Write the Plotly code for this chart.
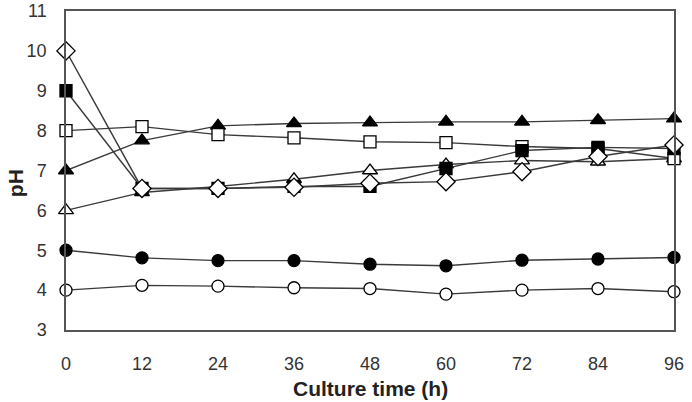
import plotly.graph_objects as go

time_h = [0, 12, 24, 36, 48, 60, 72, 84, 96]
x_ticks = [0, 12, 24, 36, 48, 60, 72, 84, 96]
y_ticks = [3, 4, 5, 6, 7, 8, 9, 10, 11]

ph_open_circle = [4.0, 4.12, 4.1, 4.06, 4.04, 3.9, 4.0, 4.04, 3.96]
ph_filled_circle = [5.0, 4.81, 4.74, 4.74, 4.65, 4.61, 4.75, 4.78, 4.82]
ph_filled_triangle = [7.0, 7.75, 8.12, 8.18, 8.2, 8.22, 8.22, 8.26, 8.3]
ph_open_square = [8.0, 8.1, 7.9, 7.82, 7.72, 7.7, 7.6, 7.55, 7.3]
ph_filled_square = [9.0, 6.55, 6.55, 6.6, 6.6, 7.05, 7.5, 7.58, 7.55]
ph_open_triangle = [6.0, 6.45, 6.6, 6.78, 7.0, 7.15, 7.25, 7.22, 7.3]
ph_open_diamond = [10.0, 6.55, 6.55, 6.58, 6.68, 6.72, 6.97, 7.35, 7.64]

series = [
    (ph_open_circle, "circle", "white", 12),
    (ph_filled_circle, "circle", "black", 12),
    (ph_open_triangle, "triangle-up", "white", 13),
    (ph_filled_triangle, "triangle-up", "black", 13),
    (ph_open_square, "square", "white", 12),
    (ph_filled_square, "square", "black", 12),
    (ph_open_diamond, "diamond", "white", 14),
]

fig = go.Figure()
for vals, sym, fill, sz in series:
    fig.add_trace(go.Scatter(
        x=time_h, y=vals, mode="lines+markers",
        line=dict(color="#3a3a3a", width=1.4),
        marker=dict(symbol=sym, size=sz, color=fill,
                    line=dict(color="black", width=1.3)),
        showlegend=False, cliponaxis=False,
    ))

font_family = "Liberation Sans, Arial, sans-serif"
fig.update_layout(
    width=692, height=402,
    margin=dict(l=66, r=18, t=11, b=72),
    plot_bgcolor="white", paper_bgcolor="white",
    font=dict(family=font_family, color="#333333", size=18),
    xaxis=dict(
        range=[0, 96], tickvals=x_ticks, ticktext=[str(v) for v in x_ticks],
        showgrid=False, zeroline=False, showline=True, mirror=True,
        linecolor="#555555", linewidth=1.5, ticks="", automargin=False,
        ticklabelstandoff=17,
        tickfont=dict(size=18, color="#333333"),
    ),
    yaxis=dict(
        range=[3, 11], tickvals=y_ticks, ticktext=[str(v) for v in y_ticks],
        showgrid=False, zeroline=False, showline=True, mirror=True,
        linecolor="#555555", linewidth=1.5, ticks="", automargin=False,
        ticklabelstandoff=14,
        tickfont=dict(size=18, color="#333333"),
    ),
    annotations=[
        dict(text="<b>pH</b>", textangle=-90, xref="paper", yref="paper",
             x=-0.084, y=0.46, showarrow=False, xanchor="center", yanchor="middle",
             font=dict(size=21, color="#222222")),
        dict(text="<b>Culture time (h)</b>", xref="paper", yref="paper",
             x=0.5, y=-0.183, showarrow=False, xanchor="center", yanchor="middle",
             font=dict(size=21, color="#222222")),
    ],
)

fig.write_html("out.html")
